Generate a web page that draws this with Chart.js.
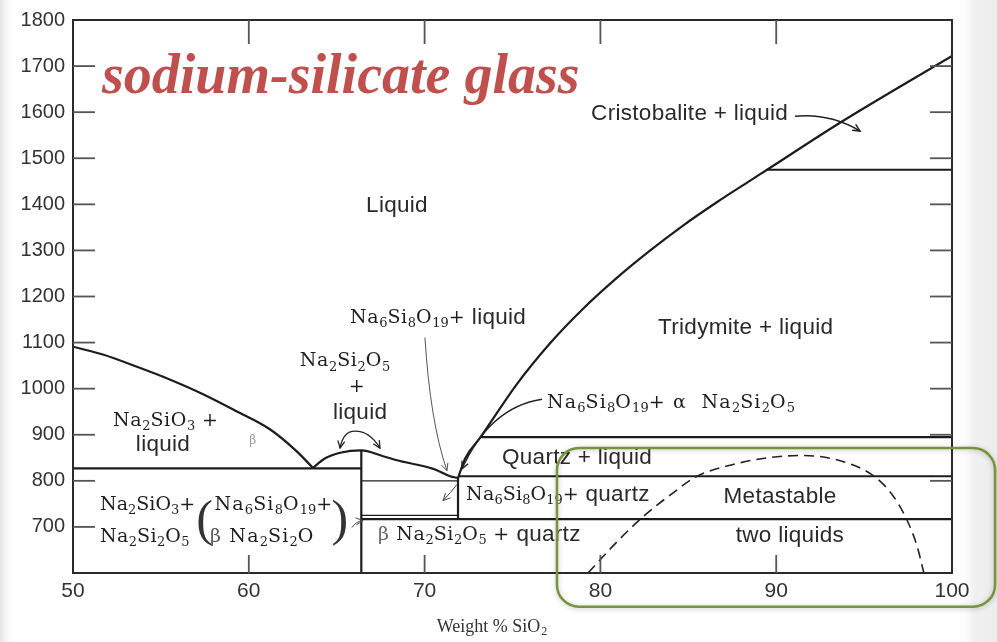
<!DOCTYPE html>
<html>
<head>
<meta charset="utf-8">
<script src="https://cdn.jsdelivr.net/npm/chart.js@4.4.1/dist/chart.umd.min.js"></script>
<style>
  html, body { margin: 0; padding: 0; background: #fff; }
  #box { width: 997px; height: 642px; position: relative; }
</style>
</head>
<body>
<div id="box"><canvas id="c" width="997" height="642"></canvas></div>
<script>
// ---- axis ticks ----
const xTickValues = [50, 60, 70, 80, 90, 100];
const yTickValues = [700, 800, 900, 1000, 1100, 1200, 1300, 1400, 1500, 1600, 1700, 1800];

// ---- liquidus curves (wt% SiO2, temperature °C) ----
const na2sio3LiquidusX = [50, 51.7, 53.6, 55.5, 57.4, 59.3, 61.2, 62.7, 63.65];
const na2sio3LiquidusT = [1091, 1074, 1048, 1020, 988, 951, 912, 865, 828];

const na2si2o5LiquidusX = [63.65, 64.3, 65.2, 66.4, 67.6, 68.6, 70.5, 71.45, 71.9];
const na2si2o5LiquidusT = [828, 848, 861, 866, 854, 843, 826, 810, 806];

const silicaLiquidusX = [71.9, 72.3, 73.15, 75.25, 77.1, 79.0, 80.95, 82.8, 84.7, 86.6, 88.5, 89.48, 93.63, 100];
const silicaLiquidusT = [806, 848, 893, 1010, 1097, 1173, 1241, 1299, 1354, 1404, 1451, 1475, 1577, 1722];

// metastable two-liquid dome
const domeX = [79.3, 80.5, 82.3, 84.0, 85.5, 87.5, 89.5, 91.5, 93.5, 95.5, 96.6, 97.4, 98.0, 98.4];
const domeT = [600, 650, 718, 770, 810, 835, 850, 855, 845, 812, 770, 718, 660, 600];

// ---- isotherms: from x1 to x2 at temperature T ----
const isothermX1 = [50, 66.4, 66.4, 66.4, 71.9, 73.15, 89.48];
const isothermX2 = [66.4, 71.9, 71.9, 100, 100, 100, 100];
const isothermT  = [827, 800, 725, 717, 810, 895, 1475];
const isothermThin = [false, true, true, false, false, false, false];

// ---- compound composition lines ----
const compoundX    = [66.4, 71.9];
const compoundTop  = [866, 806];
const compoundBase = [600, 717];

const INK = '#1c1c1c';
const SERIF = '"DejaVu Serif", "Liberation Serif", serif';
const SANS = '"Liberation Sans", Arial, sans-serif';

function pts(xs, ts) { return xs.map((x, i) => ({ x: x, y: ts[i] })); }

const datasets = [];
function curve(xs, ts, extra) {
  datasets.push(Object.assign({
    data: pts(xs, ts), showLine: true, pointRadius: 0, borderColor: INK,
    borderWidth: 2.2, cubicInterpolationMode: 'monotone', fill: false
  }, extra || {}));
}
curve(na2sio3LiquidusX, na2sio3LiquidusT);
curve(na2si2o5LiquidusX, na2si2o5LiquidusT);
curve(silicaLiquidusX, silicaLiquidusT);
curve(domeX, domeT, { borderDash: [10, 6], borderWidth: 1.6, borderColor: '#222' });
isothermT.forEach((t, i) => {
  curve([isothermX1[i], isothermX2[i]], [t, t], {
    borderWidth: isothermThin[i] ? 1.3 : 2.2, cubicInterpolationMode: 'default', tension: 0
  });
});
compoundX.forEach((x, i) => {
  curve([x, x], [compoundBase[i], compoundTop[i]], { cubicInterpolationMode: 'default', tension: 0 });
});

// ---- region labels (data coordinates) ----
const labels = [
  { x: 68.43, y: 1397, align: 'center', parts: [{ t: 'Liquid', f: 'sans' }] },
  { x: 79.47, y: 1597, align: 'left', parts: [{ t: 'Cristobalite + liquid', f: 'sans' }] },
  { x: 83.28, y: 1132, align: 'left', parts: [{ t: 'Tridymite + liquid', f: 'sans' }] },
  { x: 65.76, y: 1154, align: 'left', parts: [{ t: 'Na_6Si_8O_19+', f: 'serif' }, { t: ' liquid', f: 'sans' }] },
  { x: 65.47, y: 1059, align: 'center', parts: [{ t: 'Na_2Si_2O_5', f: 'serif' }] },
  { x: 66.15, y: 1003, align: 'center', parts: [{ t: '+', f: 'serif' }] },
  { x: 66.33, y: 947, align: 'center', parts: [{ t: 'liquid', f: 'sans' }] },
  { x: 76.96, y: 968, align: 'left', ls: 1.2, parts: [{ t: 'Na_6Si_8O_19+ \u03b1  Na_2Si_2O_5', f: 'serif' }] },
  { x: 52.28, y: 930, align: 'left', parts: [{ t: 'Na_2SiO_3 +', f: 'serif' }] },
  { x: 55.12, y: 878, align: 'center', parts: [{ t: 'liquid', f: 'sans' }] },
  { x: 60.24, y: 887, align: 'center', parts: [{ t: '\u03b2', f: 'serif', s: 12, c: '#999' }] },
  { x: 51.54, y: 747, align: 'left', ls: 0, parts: [{ t: 'Na_2SiO_3+', f: 'serif' }] },
  { x: 51.54, y: 678, align: 'left', ls: 0.4, parts: [{ t: 'Na_2Si_2O_5', f: 'serif' }] },
  { x: 57.5, y: 712, align: 'center', parts: [{ t: '(', f: 'serif', s: 50, c: '#333', light: true }] },
  { x: 58.05, y: 747, align: 'left', ls: 1.2, parts: [{ t: 'Na_6Si_8O_19+', f: 'serif' }] },
  { x: 57.79, y: 678, align: 'left', ls: 1.2, parts: [{ t: '\u03b2', f: 'serif', c: '#555' }, { t: ' Na_2Si_2O', f: 'serif' }] },
  { x: 65.2, y: 712, align: 'center', parts: [{ t: ')', f: 'serif', s: 50, c: '#333', light: true }] },
  { x: 67.35, y: 682, align: 'left', parts: [{ t: '\u03b2', f: 'serif', c: '#666' }, { t: ' Na_2Si_2O_5 +', f: 'serif' }, { t: ' quartz', f: 'sans' }] },
  { x: 74.4, y: 850, align: 'left', parts: [{ t: 'Quartz + liquid', f: 'sans' }] },
  { x: 72.36, y: 770, align: 'left', ls: 0.2, parts: [{ t: 'Na_6Si_8O_19+', f: 'serif' }, { t: ' quartz', f: 'sans' }] },
  { x: 90.22, y: 766, align: 'center', parts: [{ t: 'Metastable', f: 'sans' }] },
  { x: 90.78, y: 680, align: 'center', parts: [{ t: 'two liquids', f: 'sans' }] }
];

// ---- pointer arrows: start, control, end (data coordinates) ----
const arrows = [
  { a: [70.02, 1111], c: [70.31, 930], b: [71.27, 822], w: 1, col: '#555' },
  { a: [76.68, 977], c: [73.72, 960], b: [72.13, 826], w: 1.3, col: '#222' },
  { a: [66.04, 908], c: [65.36, 908], b: [65.19, 871], w: 1.3, col: '#222' },
  { a: [66.04, 908], c: [66.89, 908], b: [67.46, 871], w: 1.3, col: '#222' },
  { a: [71.84, 792], c: [71.5, 775], b: [71.05, 757], w: 1, col: '#444' },
  { a: [65.87, 699], c: [66.1, 712], b: [66.5, 714], w: 1, col: '#444' },
  { a: [91.07, 1591], c: [93.06, 1598], b: [94.77, 1559], w: 1.5, col: '#222' }
];

// axis title anchor (data x of its centre)
const xTitleCentre = 73.8;

// highlighted region (data coordinates, may extend past the axes)
const highlightBox = { x1: 77.53, x2: 102.45, t1: 871, t2: 527 };

function richLayout(ctx, lb, base) {
  const runs = [];
  lb.parts.forEach(p => {
    const fam = p.f === 'sans' ? SANS : SERIF;
    const fam2 = p.light ? '"Liberation Serif", serif' : fam;
    const sz = p.s || base[p.f];
    const col = p.c || (p.f === 'serif' ? '#1e1e1e' : '#2a2a2a');
    const ls = p.f === 'serif' ? (lb.ls !== undefined ? lb.ls : 0.6) : 0.3;
    const re = /_(\d+)|([^_]+)/g;
    let m;
    while ((m = re.exec(p.t))) {
      if (m[1]) runs.push({ text: m[1], font: Math.round(sz * 0.7) + 'px ' + fam2, dy: sz * 0.3, col: col, ls: 0 });
      else runs.push({ text: m[2], font: sz + 'px ' + fam2, dy: 0, col: col, ls: ls });
    }
  });
  let w = 0;
  runs.forEach(r => {
    ctx.font = r.font;
    ctx.letterSpacing = r.ls + 'px';
    r.w = ctx.measureText(r.text).width;
    w += r.w;
  });
  return { runs, w };
}

const decor = {
  id: 'decor',
  beforeDraw(chart) {
    const ctx = chart.ctx;
    const W = chart.width, H = chart.height;
    ctx.save();
    ctx.fillStyle = '#fff';
    ctx.fillRect(0, 0, W, H);
    let g = ctx.createLinearGradient(0, 0, 16, 0);
    g.addColorStop(0, '#e4e4e4'); g.addColorStop(1, 'rgba(255,255,255,0)');
    ctx.fillStyle = g; ctx.fillRect(0, 0, 16, H);
    g = ctx.createLinearGradient(958, 0, 997, 0);
    g.addColorStop(0, 'rgba(255,255,255,0)'); g.addColorStop(0.4, '#f1f1f1'); g.addColorStop(1, '#ececec');
    ctx.fillStyle = g; ctx.fillRect(958, 0, 39, H);
    ctx.restore();
  },
  afterDatasetsDraw(chart) {
    const ctx = chart.ctx;
    const xs = chart.scales.x, ys = chart.scales.y;
    const a = chart.chartArea;
    ctx.save();
    // frame
    ctx.strokeStyle = '#2a2a2a';
    ctx.lineWidth = 2;
    ctx.strokeRect(a.left, a.top, a.right - a.left, a.bottom - a.top);
    // inward tick marks
    ctx.lineWidth = 1.8;
    ctx.strokeStyle = '#555';
    yTickValues.forEach(v => {
      if (v >= 1800) return;
      const py = ys.getPixelForValue(v);
      ctx.beginPath(); ctx.moveTo(a.left, py); ctx.lineTo(a.left + 22, py); ctx.stroke();
      if (v >= 800) { ctx.beginPath(); ctx.moveTo(a.right, py); ctx.lineTo(a.right - 22, py); ctx.stroke(); }
    });
    xTickValues.forEach(v => {
      if (v <= 50 || v >= 100) return;
      const px = xs.getPixelForValue(v);
      ctx.beginPath(); ctx.moveTo(px, a.top); ctx.lineTo(px, a.top + 24); ctx.stroke();
      ctx.beginPath(); ctx.moveTo(px, a.bottom); ctx.lineTo(px, a.bottom - 18); ctx.stroke();
    });

    // arrows
    arrows.forEach(ar => {
      const A = [xs.getPixelForValue(ar.a[0]), ys.getPixelForValue(ar.a[1])];
      const C = [xs.getPixelForValue(ar.c[0]), ys.getPixelForValue(ar.c[1])];
      const B = [xs.getPixelForValue(ar.b[0]), ys.getPixelForValue(ar.b[1])];
      ctx.strokeStyle = ar.col; ctx.lineWidth = ar.w;
      ctx.beginPath(); ctx.moveTo(A[0], A[1]); ctx.quadraticCurveTo(C[0], C[1], B[0], B[1]); ctx.stroke();
      const ang = Math.atan2(B[1] - C[1], B[0] - C[0]);
      const L = 8, s = 0.45;
      ctx.beginPath();
      ctx.moveTo(B[0] - L * Math.cos(ang - s), B[1] - L * Math.sin(ang - s));
      ctx.lineTo(B[0], B[1]);
      ctx.lineTo(B[0] - L * Math.cos(ang + s), B[1] - L * Math.sin(ang + s));
      ctx.stroke();
    });

    // region labels
    ctx.textBaseline = 'middle';
    ctx.textAlign = 'left';
    const base = { serif: 19, sans: 22.5 };
    labels.forEach(lb => {
      const lay = richLayout(ctx, lb, base);
      let x = xs.getPixelForValue(lb.x);
      const y = ys.getPixelForValue(lb.y);
      if (lb.align === 'center') x -= lay.w / 2;
      lay.runs.forEach(r => {
        ctx.font = r.font;
        ctx.letterSpacing = r.ls + 'px';
        ctx.fillStyle = r.col;
        ctx.fillText(r.text, x, y + r.dy);
        x += r.w;
      });
    });
    ctx.letterSpacing = '0px';

    // x axis title
    {
      const main = 'Weight % SiO', sub = '2';
      ctx.font = '18px "Liberation Serif", serif';
      const w1 = ctx.measureText(main).width;
      ctx.font = '12px "Liberation Serif", serif';
      const w2 = ctx.measureText(sub).width;
      let x = xs.getPixelForValue(xTitleCentre) - (w1 + w2) / 2;
      ctx.fillStyle = '#333';
      ctx.textBaseline = 'middle';
      ctx.font = '18px "Liberation Serif", serif';
      ctx.fillText(main, x, 627);
      ctx.font = '12px "Liberation Serif", serif';
      ctx.fillText(sub, x + w1 + 1, 632);
    }

    // title
    ctx.font = 'bold italic 56px "Liberation Serif", serif';
    ctx.fillStyle = '#c0504d';
    ctx.textBaseline = 'alphabetic';
    ctx.fillText('sodium-silicate glass', 102, 93);

    // highlighted region
    const bx1 = xs.getPixelForValue(highlightBox.x1), bx2 = xs.getPixelForValue(highlightBox.x2);
    const by1 = ys.getPixelForValue(highlightBox.t1), by2 = ys.getPixelForValue(highlightBox.t2);
    ctx.shadowColor = 'rgba(0,0,0,0.25)';
    ctx.shadowBlur = 5;
    ctx.shadowOffsetY = 1;
    ctx.strokeStyle = '#77933c';
    ctx.lineWidth = 2.5;
    ctx.beginPath();
    ctx.roundRect(bx1, by1, bx2 - bx1, by2 - by1, 22);
    ctx.stroke();
    ctx.restore();
  }
};

new Chart(document.getElementById('c'), {
  type: 'scatter',
  data: { datasets },
  options: {
    responsive: false,
    animation: false,
    events: [],
    layout: { padding: { left: 0, top: 16, right: 45, bottom: 0 } },
    plugins: { legend: { display: false }, tooltip: { enabled: false } },
    scales: {
      x: {
        type: 'linear', min: 50, max: 100,
        afterFit: s => { s.height = 69; },
        afterBuildTicks: s => { s.ticks = xTickValues.map(v => ({ value: v })); },
        grid: { display: false, drawTicks: false },
        border: { display: false },
        ticks: { color: '#333', padding: 6, font: { family: SANS, size: 21 }, callback: v => String(v) }
      },
      y: {
        type: 'linear', min: 600, max: 1800,
        afterFit: s => { s.width = 73; },
        afterBuildTicks: s => { s.ticks = yTickValues.map(v => ({ value: v })); },
        grid: { display: false, drawTicks: false },
        border: { display: false },
        ticks: { color: '#333', padding: 8, font: { family: SANS, size: 20 }, callback: v => String(v) }
      }
    }
  },
  plugins: [decor]
});
</script>
</body>
</html>
